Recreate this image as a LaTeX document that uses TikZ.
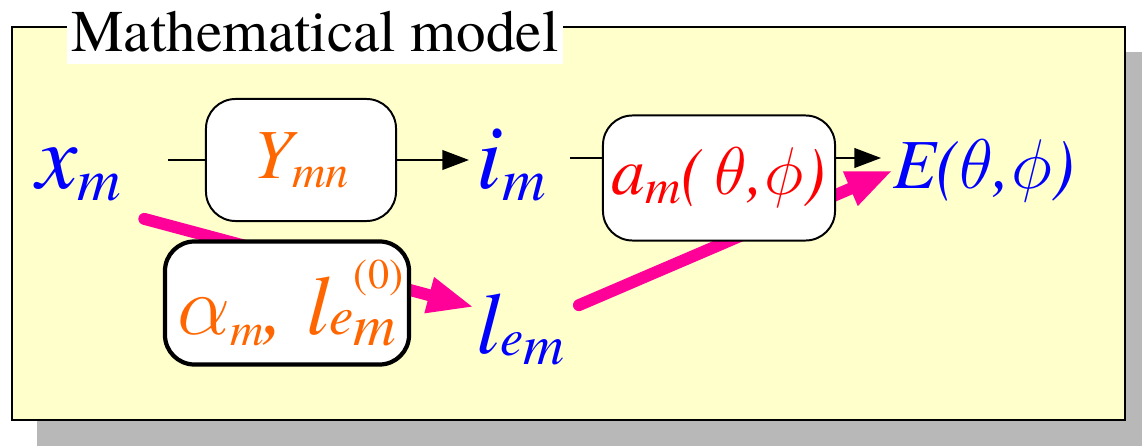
\RequirePackage{fix-cm}
\documentclass[tikz,border=0pt]{standalone}
\usepackage{fontspec}
\setmainfont{texgyretermes}[Extension=.otf, UprightFont=*-regular, ItalicFont=*-italic,
  BoldFont=*-bold, BoldItalicFont=*-bolditalic]
\usetikzlibrary{calc,arrows.meta}
\definecolor{modelyellow}{HTML}{FFFFCC}
\definecolor{shadowgray}{HTML}{B8B8B8}
\definecolor{hotpink}{HTML}{FF0099}
\definecolor{paramorange}{HTML}{FF6600}
\newcommand{\subidx}[2]{\raisebox{-0.13em}{\scalebox{#1}{#2}}}

\begin{document}
\begin{tikzpicture}[x=0.025cm, y=-0.025cm,
    block/.style={draw, fill=white, rounded corners=21pt, line width=1.4pt, inner sep=0pt},
    sig/.style={text=blue, inner sep=0pt, anchor=base west},
    flow/.style={line width=1.4pt},
    flowarrow/.style={flow, -{Triangle[length=19pt, width=14pt]}},
    hotarrow/.style={hotpink, line width=8.5pt, line cap=round, -{Triangle[length=33pt, width=24pt]}}]
    \useasboundingbox (0,0) rectangle (1142,446);
    \fill[shadowgray] (37,52) rectangle (1142,446);
    \draw[fill=modelyellow, line width=1.8pt] (12,27) rectangle (1125,420);
    \node[fill=white, inner sep=0pt, minimum width=12.375cm, minimum height=1.6cm,
          font=\fontsize{42}{46}\selectfont] (modeltitle) at (315,32) {Mathematical model};

    \node[sig, font=\fontsize{66}{70}\selectfont\itshape] (xm) at (36,188) {x\subidx{0.65}{m}};
    \node[sig, font=\fontsize{66}{70}\selectfont\itshape] (im) at (476,188) {i\subidx{0.65}{m}};
    \node[sig, font=\fontsize{50}{54}\selectfont\itshape] (E) at (893,188) {E($\theta$,$\phi$)};
    \node[sig, font=\fontsize{62}{66}\selectfont\itshape] (lem) at (476,353)
        {l\raisebox{-0.03em}{\scalebox{0.6}{e}}\subidx{0.65}{m}};

    \draw[hotarrow] ($(xm.south east)+(23,18)$) -- ($(lem.west)+(-2,-22)$);
    \draw[hotarrow] ($(lem.east)+(14,-24)$) -- (E.west);

    \node[block, minimum width=4.75cm, minimum height=3.05cm, text=paramorange,
          font=\fontsize{50}{54}\selectfont\itshape] (ybox) at (301,160) {Y\subidx{0.66}{mn}};
    \node[block, minimum width=5.8cm, minimum height=3.125cm, text=red,
          font=\fontsize{48}{52}\selectfont\itshape] (abox) at (719,178) {a\subidx{0.73}{m}(\,$\theta$,$\phi$)};
    \node[block, line width=3pt, minimum width=6.1cm, minimum height=3.075cm, text=paramorange,
          font=\fontsize{60}{64}\selectfont\itshape] (alphabox) at (287,303)
        {$\alpha$\subidx{0.55}{m}, l\scalebox{0.65}{e}\rlap{\raisebox{0.55em}{\scalebox{0.5}{\upshape(0)}}}\subidx{0.7}{m}};

    \draw[flow] ($(ybox.west)+(-37,0)$) -- (ybox.west);
    \draw[flowarrow, shorten >=5pt] (ybox.east) -- (ybox.east -| im.west);
    \coordinate (ain) at ($(abox.west)+(0,-20)$);
    \coordinate (aout) at ($(abox.east)+(0,-20)$);
    \draw[flow] ($(ain)+(-32,0)$) -- (ain);
    \draw[flowarrow, shorten >=8.5pt] (aout) -- (aout -| E.west);
\end{tikzpicture}
\end{document}
